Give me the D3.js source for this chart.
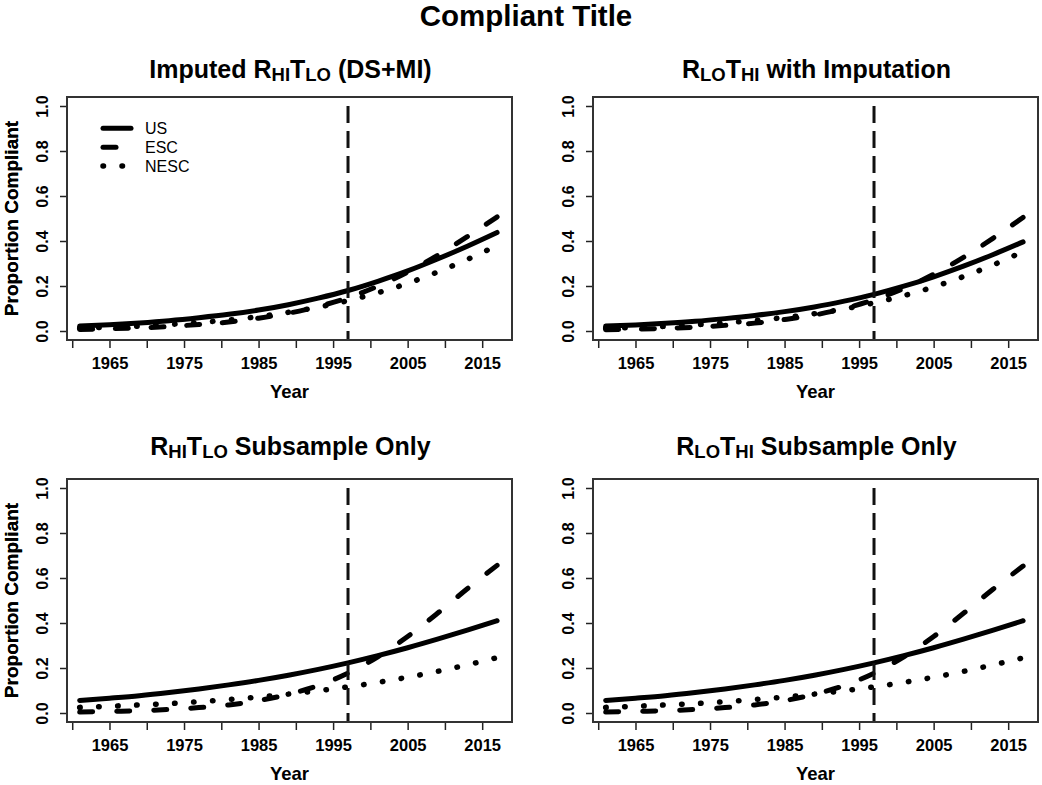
<!DOCTYPE html>
<html>
<head>
<meta charset="utf-8">
<script src="https://cdn.jsdelivr.net/npm/d3@7"></script>
<style>
  html, body { margin: 0; padding: 0; background: #fff; }
  svg { display: block; font-family: "Liberation Sans", Arial, Helvetica, sans-serif; }
</style>
</head>
<body>
<svg id="chart" width="1042" height="785"></svg>
<script>
// ---------------- data ----------------
const years = [1961, 1965, 1969, 1973, 1977, 1981, 1985, 1989, 1993, 1997, 2001, 2005, 2009, 2013, 2017];

const hiloImpUS   = [0.022, 0.028, 0.036, 0.046, 0.059, 0.074, 0.093, 0.117, 0.146, 0.180, 0.221, 0.267, 0.320, 0.377, 0.438];
const hiloImpESC  = [0.007, 0.010, 0.014, 0.020, 0.029, 0.040, 0.057, 0.079, 0.109, 0.148, 0.199, 0.262, 0.336, 0.419, 0.507];
const hiloImpNESC = [0.013, 0.017, 0.022, 0.029, 0.038, 0.049, 0.064, 0.083, 0.106, 0.135, 0.170, 0.212, 0.262, 0.318, 0.380];

const lohiImpUS   = [0.022, 0.027, 0.034, 0.043, 0.055, 0.069, 0.086, 0.107, 0.133, 0.163, 0.199, 0.241, 0.288, 0.340, 0.396];
const lohiImpESC  = [0.006, 0.008, 0.012, 0.017, 0.025, 0.035, 0.051, 0.071, 0.100, 0.139, 0.189, 0.252, 0.327, 0.413, 0.505];
const lohiImpNESC = [0.013, 0.016, 0.021, 0.028, 0.036, 0.047, 0.060, 0.077, 0.098, 0.125, 0.157, 0.196, 0.242, 0.294, 0.353];

const hiloSubUS   = [0.056, 0.066, 0.077, 0.091, 0.107, 0.125, 0.145, 0.168, 0.194, 0.223, 0.255, 0.290, 0.328, 0.368, 0.410];
const hiloSubESC  = [0.004, 0.007, 0.010, 0.016, 0.024, 0.036, 0.055, 0.083, 0.122, 0.177, 0.250, 0.340, 0.443, 0.552, 0.656];
const hiloSubNESC = [0.025, 0.030, 0.036, 0.042, 0.050, 0.060, 0.071, 0.084, 0.099, 0.116, 0.136, 0.159, 0.185, 0.214, 0.246];

const lohiSubUS   = [0.056, 0.066, 0.077, 0.091, 0.107, 0.125, 0.145, 0.168, 0.194, 0.223, 0.255, 0.290, 0.328, 0.368, 0.410];
const lohiSubESC  = [0.004, 0.007, 0.010, 0.016, 0.024, 0.036, 0.055, 0.083, 0.122, 0.177, 0.250, 0.340, 0.443, 0.551, 0.653];
const lohiSubNESC = [0.025, 0.030, 0.036, 0.042, 0.050, 0.060, 0.071, 0.084, 0.099, 0.116, 0.136, 0.159, 0.185, 0.214, 0.245];

const seriesNames = ["US", "ESC", "NESC"];
const xTicks = [1960, 1965, 1970, 1975, 1980, 1985, 1990, 1995, 2000, 2005, 2010, 2015];
const yTicks = [0.0, 0.2, 0.4, 0.6, 0.8, 1.0];
const cutYear = 1997;
const mainTitle = "Compliant Title";
const xLabel = "Year";
const yLabel = "Proportion Compliant";

// panel titles as [text, isSubscript] pieces
const panelTitles = [
  [["Imputed R", 0], ["HI", 1], ["T", 0], ["LO", 1], [" (DS+MI)", 0]],
  [["R", 0], ["LO", 1], ["T", 0], ["HI", 1], [" with Imputation", 0]],
  [["R", 0], ["HI", 1], ["T", 0], ["LO", 1], [" Subsample Only", 0]],
  [["R", 0], ["LO", 1], ["T", 0], ["HI", 1], [" Subsample Only", 0]]
];
const panelData = [
  [hiloImpUS, hiloImpESC, hiloImpNESC],
  [lohiImpUS, lohiImpESC, lohiImpNESC],
  [hiloSubUS, hiloSubESC, hiloSubNESC],
  [lohiSubUS, lohiSubESC, lohiSubNESC]
];

// ---------------- layout ----------------
const W = 445, H = 243;
const panelPos = [
  { x0: 67,  y0: 97,  titleY: 78 },
  { x0: 593, y0: 97,  titleY: 78 },
  { x0: 67,  y0: 479, titleY: 455 },
  { x0: 593, y0: 479, titleY: 455 }
];
const styles = [
  { width: 5,   dash: null, cap: "round" },
  { width: 5,   dash: [13, 24], cap: "round", fitEnd: true },
  { width: 5.5, dash: [0.5, 18.5], cap: "round" }
];

const svg = d3.select("#chart");

svg.append("text")
  .attr("x", 526).attr("y", 26)
  .attr("text-anchor", "middle")
  .attr("font-size", 29.5).attr("font-weight", "bold")
  .text(mainTitle);

const x = d3.scaleLinear().domain([1959.3, 2019.0]).range([0, W]);
const y = d3.scaleLinear().domain([-0.04, 1.04]).range([H, 0]);

panelPos.forEach((p, i) => {
  const g = svg.append("g").attr("transform", `translate(${p.x0},${p.y0})`);

  // title
  const t = svg.append("text")
    .attr("x", p.x0 + W / 2 + 1).attr("y", p.titleY)
    .attr("text-anchor", "middle")
    .attr("font-size", 25).attr("font-weight", "bold");
  let prevSub = 0;
  panelTitles[i].forEach(([s, sub]) => {
    const ts = t.append("tspan").text(s).attr("font-size", sub ? 18.5 : 25);
    const dy = (sub ? 3 : 0) - (prevSub ? 3 : 0);
    if (dy !== 0) ts.attr("dy", dy);
    prevSub = sub;
  });

  // x axis
  const xa = g.append("g").attr("transform", `translate(0,${H})`)
    .call(d3.axisBottom(x).tickValues(xTicks).tickSize(8)
      .tickFormat(d => (d % 10 === 5 ? d : "")));
  xa.select(".domain").remove();
  xa.selectAll(".tick line").attr("stroke", "#222").attr("stroke-width", 1.5);
  xa.selectAll(".tick text")
    .attr("y", 29).attr("dy", null)
    .attr("font-size", 16.5).attr("font-weight", "bold")
    .attr("font-family", "Liberation Sans, Arial, sans-serif").attr("fill", "#000");

  // y axis
  const ya = g.append("g")
    .call(d3.axisLeft(y).tickValues(yTicks).tickSize(7).tickFormat(d3.format(".1f")));
  ya.select(".domain").remove();
  ya.selectAll(".tick line").attr("stroke", "#222").attr("stroke-width", 1.5);
  ya.selectAll(".tick text")
    .attr("transform", "rotate(-90)")
    .attr("x", 0).attr("y", -18.7).attr("dy", null)
    .attr("text-anchor", "middle")
    .attr("font-size", 16).attr("font-weight", "bold")
    .attr("font-family", "Liberation Sans, Arial, sans-serif").attr("fill", "#000");

  // axis titles
  g.append("text")
    .attr("x", W / 2).attr("y", H + 58)
    .attr("text-anchor", "middle")
    .attr("font-size", 18.5).attr("font-weight", "bold")
    .text(xLabel);
  g.append("text")
    .attr("transform", `translate(${18 - p.x0},${H / 2}) rotate(-90)`)
    .attr("text-anchor", "middle")
    .attr("font-size", 19).attr("font-weight", "bold")
    .text(yLabel);

  // lines
  const line = d3.line()
    .x((d, k) => x(years[k]))
    .y(d => y(d))
    .curve(d3.curveMonotoneX);
  panelData[i].forEach((vals, s) => {
    const st = styles[s];
    const path = g.append("path")
      .datum(vals)
      .attr("d", line)
      .attr("fill", "none")
      .attr("stroke", "#000")
      .attr("stroke-width", st.width)
      .attr("stroke-linecap", st.cap)
      .attr("stroke-linejoin", "round");
    if (st.dash) {
      let [on, off] = st.dash;
      if (st.fitEnd) {
        // stretch the gap slightly so the path both starts and ends on a dash
        const L = path.node().getTotalLength();
        const period0 = on + off;
        const n = Math.max(1, Math.round((L - on) / period0));
        off = (L - on) / n - on;
      }
      path.attr("stroke-dasharray", `${on},${off}`);
    }
  });

  // vertical cut line
  g.append("line")
    .attr("x1", x(cutYear)).attr("x2", x(cutYear))
    .attr("y1", y(1.0)).attr("y2", y(-0.04))
    .attr("stroke", "#111").attr("stroke-width", 3)
    .attr("stroke-dasharray", "17,8");

  // box
  g.append("rect")
    .attr("x", 0).attr("y", 0).attr("width", W).attr("height", H)
    .attr("fill", "none").attr("stroke", "#333").attr("stroke-width", 2);

  // legend (first panel only)
  if (i === 0) {
    const legY = [31.3, 50.3, 69];
    seriesNames.forEach((name, s) => {
      const st = styles[s];
      const ln = g.append("line")
        .attr("x1", 103 - p.x0).attr("x2", 131 - p.x0)
        .attr("y1", legY[s]).attr("y2", legY[s])
        .attr("stroke", "#000")
        .attr("stroke-width", st.width)
        .attr("stroke-linecap", st.cap);
      if (st.dash) ln.attr("stroke-dasharray", st.dash.join(","));
      g.append("text")
        .attr("x", 145 - p.x0).attr("y", legY[s])
        .attr("dy", "0.35em")
        .attr("font-size", 16)
        .text(name);
    });
  }
});
</script>
</body>
</html>
